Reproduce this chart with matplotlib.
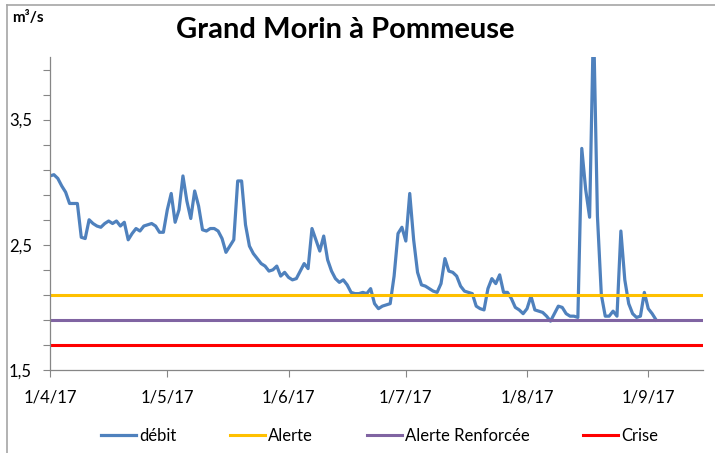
import matplotlib.pyplot as plt
import pandas as pd
from matplotlib.lines import Line2D
from matplotlib.ticker import FixedLocator, FixedFormatter

plt.rcParams['font.family'] = ['Lato', 'DejaVu Sans']

# daily flow (m3/s) from 1 April 2017
debit = [
    3.05, 3.06, 3.03, 2.97, 2.92, 2.83, 2.83, 2.83, 2.56, 2.55,
    2.70, 2.67, 2.65, 2.64, 2.67, 2.69, 2.67, 2.69, 2.65, 2.68,
    2.54, 2.59, 2.63, 2.61, 2.65, 2.66, 2.67, 2.65, 2.60, 2.60,
    2.78, 2.91, 2.68, 2.78, 3.05, 2.85, 2.71, 2.93, 2.81, 2.62,
    2.61, 2.63, 2.63, 2.61, 2.55, 2.44, 2.49, 2.54, 3.01, 3.01,
    2.66, 2.49, 2.43, 2.39, 2.35, 2.33, 2.29, 2.30, 2.33, 2.25,
    2.28, 2.24, 2.22, 2.23, 2.29, 2.35, 2.31, 2.63, 2.54, 2.45,
    2.57, 2.38, 2.29, 2.23, 2.20, 2.22, 2.18, 2.12, 2.11, 2.11,
    2.12, 2.11, 2.15, 2.03, 1.99, 2.01, 2.02, 2.03, 2.25, 2.59,
    2.64, 2.53, 2.91, 2.54, 2.28, 2.18, 2.17, 2.15, 2.13, 2.12,
    2.19, 2.39, 2.29, 2.28, 2.25, 2.17, 2.13, 2.12, 2.11, 2.01,
    1.99, 1.98, 2.15, 2.23, 2.19, 2.26, 2.12, 2.12, 2.07, 2.00,
    1.98, 1.95, 1.99, 2.09, 1.98, 1.97, 1.96, 1.93, 1.89, 1.95,
    2.01, 2.00, 1.95, 1.93, 1.93, 1.92, 3.27, 2.94, 2.72, 4.30,
    2.73, 2.10, 1.93, 1.93, 1.97, 1.93, 2.61, 2.22, 2.03, 1.95,
    1.92, 1.93, 2.12, 1.99, 1.95, 1.90,
]
dates = pd.date_range('2017-04-01', periods=len(debit), freq='D')

# thresholds
alerte = 2.1
alerte_renforcee = 1.9
crise = 1.7

month_ticks = pd.to_datetime(['2017-04-01', '2017-05-01', '2017-06-01',
                              '2017-07-01', '2017-08-01', '2017-09-01'])
month_labels = ['1/4/17', '1/5/17', '1/6/17', '1/7/17', '1/8/17', '1/9/17']
y_ticks = [1.5, 1.7, 1.9, 2.1, 2.3, 2.5, 2.7, 2.9, 3.1, 3.3, 3.5, 3.7, 3.9]
y_labels = {1.5: '1,5', 2.5: '2,5', 3.5: '3,5'}

fig = plt.figure(figsize=(7.15, 4.53), dpi=100)
ax = fig.add_axes([50 / 715, 83 / 453, 653 / 715, 313 / 453])

ax.plot(dates, debit, color='#4F81BD', lw=2.3, label='débit')
ax.axhline(alerte, color='#FFC000', lw=2.2, label='Alerte')
ax.axhline(alerte_renforcee, color='#8064A2', lw=2.2, label='Alerte Renforcée')
ax.axhline(crise, color='#FF0000', lw=2.2, label='Crise')

ax.set_ylim(1.5, 4.0)
ax.set_xlim(pd.Timestamp('2017-04-01'), pd.Timestamp('2017-09-15'))

ax.yaxis.set_major_locator(FixedLocator(y_ticks))
ax.yaxis.set_major_formatter(FixedFormatter([y_labels.get(round(t, 1), '') for t in y_ticks]))
ax.set_xticks(month_ticks)
ax.set_xticklabels(month_labels)

for side in ['top', 'right']:
    ax.spines[side].set_visible(False)
for side in ['left', 'bottom']:
    ax.spines[side].set_color('#868686')
    ax.spines[side].set_linewidth(0.9)
ax.tick_params(axis='y', direction='out', length=5, color='#868686', labelsize=12, pad=8)
ax.tick_params(axis='x', direction='out', length=5, color='#868686', labelsize=12, pad=9)

fig.text(0.483, 0.934, 'Grand Morin à Pommeuse', ha='center', va='center',
         fontsize=21, fontweight='bold')
fig.text(12 / 715, 1 - 18 / 453, 'm³/s', ha='left', va='center',
         fontsize=11, fontweight='bold')

# outer chart frame (left and top edges visible)
fig.add_artist(Line2D([7 / 715, 7 / 715], [0, 1 - 5 / 453], color='#A6A6A6', lw=1.2))
fig.add_artist(Line2D([7 / 715, 1], [1 - 5 / 453, 1 - 5 / 453], color='#A6A6A6', lw=1.2))

fig.legend(loc='center', bbox_to_anchor=(0.531, 0.0375), ncol=4, frameon=False,
           handlelength=2.1, columnspacing=3.2, handletextpad=0.2, fontsize=12)

fig.savefig('out.png', dpi=100)
